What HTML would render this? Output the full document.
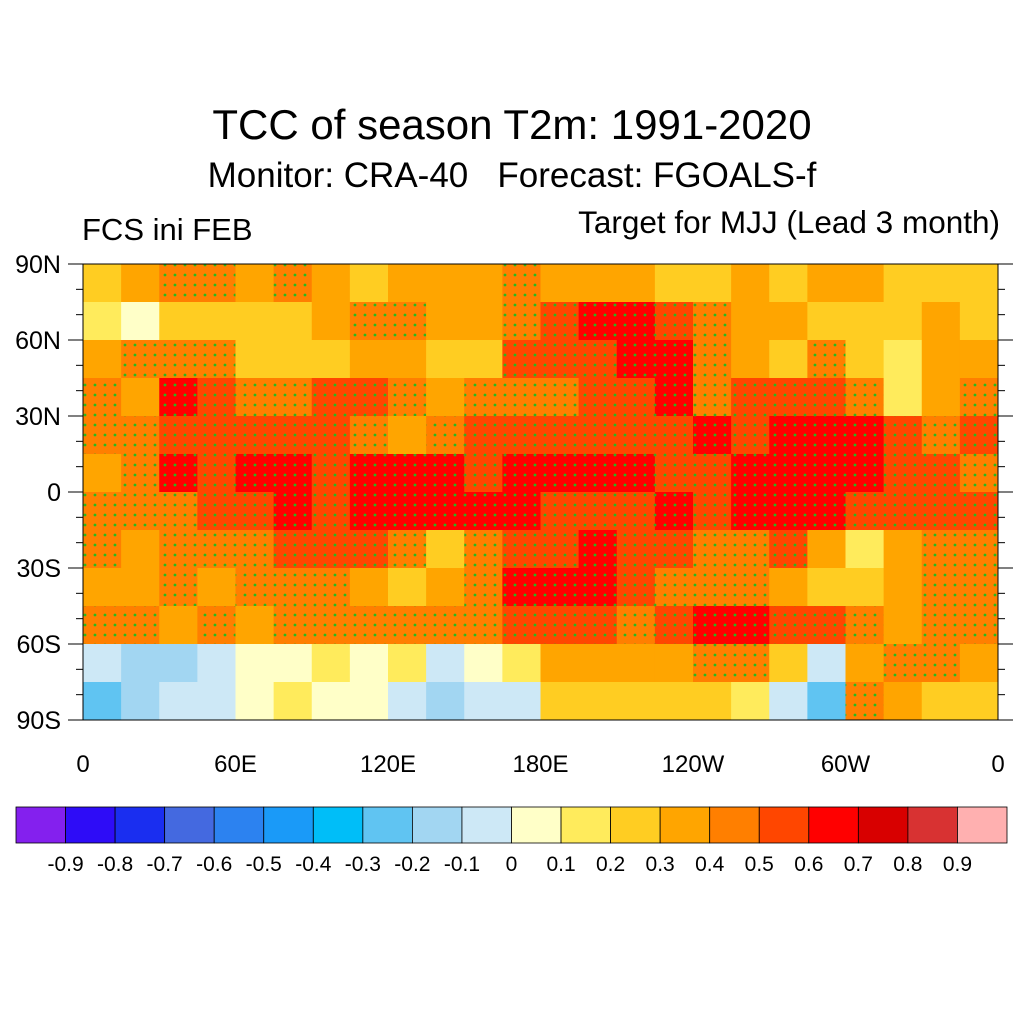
<!DOCTYPE html>
<html><head><meta charset="utf-8"><style>
body{margin:0;background:#fff;}
svg{display:block;font-family:"Liberation Sans",sans-serif;}
text{white-space:pre;}
</style></head><body>
<svg id="chart" width="1024" height="1024" viewBox="0 0 1024 1024">
<defs>
<pattern id="dots" width="10" height="10" patternUnits="userSpaceOnUse"><circle cx="5" cy="5" r="1.4" fill="#22bb22"/></pattern>
<clipPath id="mapclip"><rect x="83" y="264" width="915" height="456"/></clipPath>
</defs>
<text x="512" y="139" font-size="42" text-anchor="middle">TCC of season T2m: 1991-2020</text>
<text x="512" y="187" font-size="35" text-anchor="middle" xml:space="preserve">Monitor: CRA-40   Forecast: FGOALS-f</text>
<text x="82" y="240" font-size="31">FCS ini FEB</text>
<text x="1000" y="233" font-size="31.5" text-anchor="end">Target for MJJ (Lead 3 month)</text>
<g id="map" clip-path="url(#mapclip)"></g>
<g id="axes"></g>
<g id="cbar"></g>
</svg>
<script>
const levels=[-0.9,-0.8,-0.7,-0.6,-0.5,-0.4,-0.3,-0.2,-0.1,0,0.1,0.2,0.3,0.4,0.5,0.6,0.7,0.8,0.9];
const levelLabels=["-0.9","-0.8","-0.7","-0.6","-0.5","-0.4","-0.3","-0.2","-0.1","0","0.1","0.2","0.3","0.4","0.5","0.6","0.7","0.8","0.9"];
const colors=["#8420ee","#2e0cf7","#1a2ef0","#4469e0","#2c82f0","#1a9af8","#00bef8","#60c4f2","#a2d6f2","#cde8f6","#ffffc8","#ffeb5c","#ffcd22","#ffa500","#ff7f00","#ff4600","#ff0000","#d80000","#d83232","#ffb0b0"];
const lonLabels=["0","60E","120E","180E","120W","60W","0"];
const latLabels=["90N","60N","30N","0","30S","60S","90S"];
const tcc=[
[0.28,0.32,0.4,0.4,0.35,0.4,0.35,0.28,0.32,0.35,0.32,0.45,0.35,0.32,0.32,0.28,0.28,0.32,0.28,0.32,0.32,0.28,0.28,0.25],
[0.15,0.05,0.2,0.25,0.28,0.25,0.32,0.4,0.45,0.32,0.35,0.4,0.55,0.62,0.62,0.5,0.45,0.35,0.32,0.28,0.2,0.28,0.32,0.28],
[0.35,0.4,0.45,0.4,0.25,0.28,0.28,0.35,0.35,0.28,0.25,0.5,0.55,0.55,0.65,0.6,0.4,0.35,0.28,0.4,0.28,0.15,0.32,0.35],
[0.4,0.35,0.62,0.55,0.45,0.4,0.5,0.55,0.4,0.35,0.4,0.45,0.4,0.5,0.5,0.6,0.45,0.5,0.55,0.55,0.4,0.1,0.32,0.4],
[0.4,0.45,0.55,0.5,0.5,0.55,0.55,0.45,0.35,0.4,0.5,0.5,0.55,0.55,0.5,0.55,0.62,0.55,0.62,0.65,0.62,0.5,0.45,0.5],
[0.35,0.4,0.62,0.55,0.62,0.62,0.5,0.62,0.65,0.62,0.55,0.62,0.62,0.6,0.65,0.55,0.55,0.6,0.62,0.65,0.65,0.55,0.5,0.45],
[0.4,0.45,0.4,0.55,0.55,0.62,0.55,0.62,0.65,0.62,0.65,0.62,0.55,0.55,0.55,0.6,0.55,0.65,0.65,0.62,0.55,0.5,0.55,0.5],
[0.45,0.35,0.4,0.4,0.4,0.5,0.55,0.5,0.4,0.28,0.45,0.55,0.55,0.62,0.55,0.5,0.45,0.45,0.5,0.35,0.15,0.35,0.4,0.45],
[0.35,0.32,0.4,0.32,0.4,0.4,0.4,0.35,0.25,0.32,0.45,0.6,0.65,0.6,0.5,0.45,0.4,0.4,0.35,0.28,0.2,0.35,0.4,0.45],
[0.45,0.4,0.35,0.4,0.35,0.4,0.4,0.4,0.4,0.45,0.45,0.5,0.5,0.5,0.45,0.55,0.62,0.62,0.55,0.5,0.4,0.35,0.4,0.4],
[-0.1,-0.15,-0.15,-0.1,0.0,0.05,0.1,0.05,0.1,-0.05,0.0,0.1,0.32,0.35,0.35,0.35,0.4,0.4,0.28,-0.1,0.35,0.45,0.4,0.35],
[-0.3,-0.15,-0.1,-0.05,0.05,0.1,0.05,0.05,-0.05,-0.15,-0.1,-0.1,0.2,0.28,0.28,0.25,0.2,0.15,-0.1,-0.3,0.45,0.35,0.28,0.25]
];
const NS="http://www.w3.org/2000/svg";
const X0=83,X1=998,Y0=264,Y1=720;
const xLon=l=>X0+(l/360)*(X1-X0);
const yLat=la=>Y0+((90-la)/180)*(Y1-Y0);
function colorFor(v){let i=0;while(i<levels.length&&v>=levels[i]-1e-9)i++;return colors[i];}
function mk(tag,attrs,parent){const e=document.createElementNS(NS,tag);for(const k in attrs)e.setAttribute(k,attrs[k]);parent.appendChild(e);return e;}
const map=document.getElementById('map');
const nr=tcc.length,nc=tcc[0].length;
tcc.forEach((row,r)=>row.forEach((v,c)=>{
 const lon0=c*360/nc,lat0=90-r*180/nr;
 const x=xLon(lon0),y=yLat(lat0),w=xLon(lon0+360/nc)-x+0.5,h=yLat(lat0-180/nr)-y+0.5;
 const rc=mk('rect',{x:x,y:y,width:w,height:h,fill:colorFor(v)},map);
 
 
 if(v>=0.4){const d=mk('rect',{x:x,y:y,width:w,height:h,fill:'url(#dots)'},map);
 
 }
}));
const ax=document.getElementById('axes');
const fr=mk('rect',{x:X0,y:Y0,width:X1-X0,height:Y1-Y0,fill:'none',stroke:'#000','stroke-width':1},ax);


for(let la=-90;la<=90;la+=10){const y=yLat(la);const major=la%30===0;const L=major?15:7;
 mk('line',{x1:X0-L,x2:X0,y1:y,y2:y,stroke:'#000'},ax);mk('line',{x1:X1,x2:X1+L,y1:y,y2:y,stroke:'#000'},ax);}
latLabels.forEach((t,i)=>{const e=mk('text',{x:61,y:yLat(90-30*i)+9,'font-size':25,'text-anchor':'end'},ax);e.textContent=t;
 
 });
lonLabels.forEach((t,i)=>{const e=mk('text',{x:xLon(60*i),y:772,'font-size':24,'text-anchor':'middle'},ax);e.textContent=t;
 
 });
const cb=document.getElementById('cbar');
const cx0=16,cx1=1007,cy=807,ch=36,bw=(cx1-cx0)/colors.length;
colors.forEach((c,i)=>{const r=mk('rect',{x:cx0+i*bw,y:cy,width:bw,height:ch,fill:c,stroke:'#000','stroke-width':0.8},cb);
 
 });
levelLabels.forEach((t,i)=>{const e=mk('text',{x:cx0+(i+1)*bw,y:871,'font-size':21,'text-anchor':'middle'},cb);e.textContent=t;
 
 });
</script>
</body></html>
